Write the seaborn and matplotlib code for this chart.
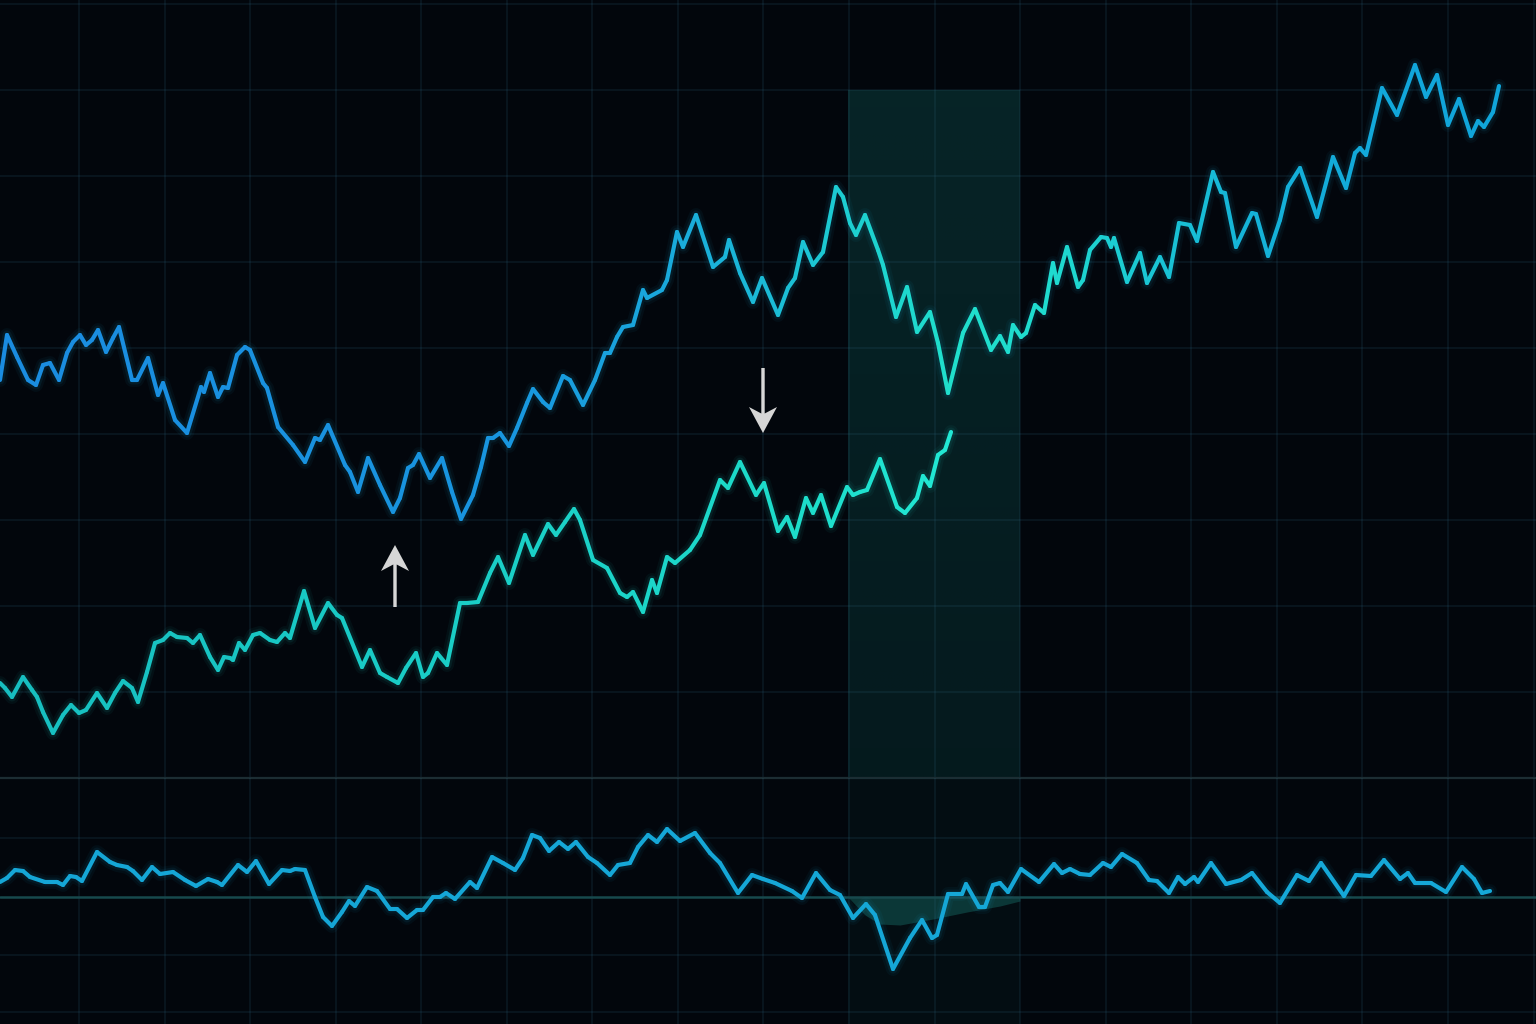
import numpy as np
import pandas as pd
import matplotlib
matplotlib.use("Agg")
import matplotlib.pyplot as plt
import seaborn as sns
from matplotlib.colors import LinearSegmentedColormap

# ---------------- data ----------------
# upper panel: primary series (blue -> teal -> blue)
blue_t = [0, 7, 17, 28, 36, 43, 50, 59, 67, 73, 80, 86, 92, 98, 106, 113, 119, 132, 137, 148,
          158, 163, 175, 187, 201, 204, 210, 218, 223, 228, 237, 245, 250, 263, 267, 278, 293, 305, 315, 320,
          328, 345, 350, 358, 368, 380, 393, 400, 408, 413, 419, 430, 442, 452, 461, 473, 481, 488, 493, 500,
          509, 517, 527, 533, 543, 550, 563, 570, 583, 595, 605, 610, 617, 623, 633, 643, 647, 662, 667, 677,
          683, 696, 713, 725, 729, 740, 753, 762, 778, 788, 795, 803, 813, 823, 836, 843, 850, 856, 865, 878,
          883, 896, 907, 917, 930, 938, 948, 963, 975, 991, 1000, 1008, 1013, 1021, 1026, 1035, 1044, 1053, 1057, 1067,
          1078, 1083, 1090, 1101, 1107, 1111, 1114, 1127, 1140, 1147, 1160, 1169, 1179, 1190, 1197, 1213, 1221, 1225, 1236, 1252,
          1256, 1268, 1280, 1288, 1300, 1317, 1333, 1346, 1355, 1360, 1366, 1382, 1397, 1415, 1426, 1437, 1448, 1459, 1471, 1478,
          1484, 1493, 1499]
blue_v = [398, 443, 421, 398, 393, 413, 415, 398, 425, 436, 443, 433, 438, 448, 426, 440, 451, 398, 398, 420,
          383, 395, 358, 345, 391, 386, 405, 381, 391, 390, 423, 431, 428, 395, 390, 351, 333, 316, 340, 338,
          353, 313, 306, 286, 320, 293, 266, 280, 310, 313, 324, 300, 320, 286, 259, 283, 311, 340, 340, 345,
          332, 350, 375, 389, 376, 370, 402, 398, 373, 398, 425, 425, 441, 451, 453, 488, 480, 488, 498, 546,
          531, 563, 511, 521, 538, 505, 476, 500, 463, 490, 500, 536, 513, 526, 591, 581, 555, 543, 563, 528,
          513, 461, 491, 446, 466, 435, 385, 445, 469, 428, 442, 426, 453, 441, 445, 473, 465, 515, 495, 531,
          491, 498, 528, 541, 540, 531, 540, 496, 525, 495, 521, 501, 555, 553, 537, 606, 586, 585, 531, 565,
          564, 522, 558, 591, 610, 561, 621, 590, 625, 630, 623, 690, 663, 713, 681, 703, 653, 679, 642, 657,
          651, 666, 692]

# upper panel: secondary series (teal)
teal_t = [0, 5, 12, 23, 32, 37, 43, 53, 63, 71, 79, 86, 97, 107, 115, 123, 132, 138, 147, 155,
          163, 170, 177, 187, 193, 200, 210, 218, 224, 230, 233, 239, 245, 253, 260, 270, 277, 285, 290, 304,
          315, 328, 337, 342, 362, 370, 380, 387, 398, 406, 416, 423, 428, 437, 447, 460, 467, 478, 490, 498,
          509, 525, 533, 548, 556, 565, 574, 580, 593, 607, 620, 627, 633, 643, 652, 657, 667, 675, 690, 700,
          720, 728, 740, 756, 764, 778, 787, 795, 806, 813, 821, 831, 847, 853, 860, 867, 880, 897, 905, 917,
          923, 930, 938, 945, 951]
teal_v = [95, 90, 81, 101, 88, 81, 66, 45, 63, 73, 65, 68, 85, 70, 85, 97, 90, 76, 106, 135,
          138, 145, 141, 140, 135, 143, 121, 108, 121, 120, 118, 135, 128, 143, 145, 138, 136, 145, 140, 187,
          150, 175, 163, 160, 111, 128, 105, 101, 95, 110, 125, 101, 105, 125, 113, 175, 175, 176, 205, 221,
          195, 243, 223, 254, 243, 256, 269, 258, 218, 210, 185, 181, 186, 166, 198, 185, 221, 215, 228, 243,
          298, 290, 316, 283, 295, 247, 261, 241, 280, 265, 283, 252, 291, 283, 286, 288, 319, 271, 265, 280,
          302, 292, 323, 328, 346]

# lower panel: oscillator around zero
osc_t = [0, 7, 15, 23, 30, 45, 57, 63, 70, 76, 82, 97, 110, 117, 127, 133, 142, 152, 160, 173,
         185, 196, 208, 217, 222, 238, 247, 256, 269, 282, 290, 295, 305, 315, 323, 332, 342, 349, 355, 367,
         377, 390, 397, 407, 417, 423, 433, 440, 446, 455, 470, 477, 492, 503, 515, 523, 532, 540, 549, 559,
         568, 576, 588, 597, 610, 618, 630, 638, 648, 657, 667, 680, 695, 710, 720, 738, 752, 763, 775, 792,
         802, 816, 830, 840, 853, 866, 875, 893, 910, 922, 932, 937, 948, 962, 966, 979, 985, 993, 1000, 1008,
         1021, 1039, 1054, 1062, 1070, 1080, 1090, 1103, 1111, 1122, 1137, 1149, 1157, 1169, 1178, 1185, 1194, 1198, 1211, 1226,
         1241, 1252, 1267, 1280, 1297, 1309, 1321, 1344, 1356, 1371, 1384, 1400, 1408, 1415, 1431, 1446, 1462, 1474, 1482, 1490]
osc_v = [15, 19, 27, 26, 20, 15, 15, 12, 21, 20, 16, 45, 35, 32, 30, 26, 17, 30, 23, 25,
         17, 11, 18, 15, 12, 32, 25, 36, 13, 27, 26, 28, 27, 0, -20, -29, -15, -4, -9, 10,
         6, -12, -12, -21, -13, -13, 0, 0, 4, -2, 15, 9, 40, 34, 27, 39, 62, 59, 46, 55,
         48, 55, 40, 34, 22, 32, 34, 50, 62, 55, 68, 56, 64, 44, 34, 4, 22, 18, 14, 6,
         -1, 24, 7, 2, -21, -7, -18, -72, -41, -23, -41, -38, 3, 3, 13, -10, -10, 12, 14, 5,
         28, 15, 33, 24, 28, 23, 22, 34, 30, 43, 34, 17, 16, 4, 20, 13, 20, 15, 34, 13,
         17, 24, 5, -6, 22, 16, 34, 1, 22, 21, 37, 18, 24, 14, 14, 5, 30, 18, 4, 6]

# shaded drawdown envelope in the lower panel
dd_t = [848, 865, 880, 900, 933, 967, 1000, 1020]
dd_v = [0, -18, -27, -28, -22, -15, -9, -4]

# highlighted window and annotation arrows
window = (848, 1020)
arrow_up = (395, 171, 233)     # t, from, to
arrow_down = (763, 410, 345)

# ---------------- style ----------------
BG = "#02060c"
sns.set_theme(style="dark")
plt.rcParams["font.family"] = ["DejaVu Sans"]

fig = plt.figure(figsize=(15.36, 10.24), dpi=100, facecolor=BG)
ax = fig.add_axes([0, 246 / 1024, 1, 778 / 1024])
axb = fig.add_axes([0, 0, 1, 246 / 1024])

xgrid = 79 + 85.56 * np.arange(-1, 18)
for a in (ax, axb):
    a.set_facecolor("none")
    for s in a.spines.values():
        s.set_visible(False)
    a.set_xticks(xgrid)
    a.tick_params(length=0, labelbottom=False, labelleft=False)
    a.grid(True, color="#2e6680", alpha=0.2, lw=1.1)
    a.set_axisbelow("line")

ax.set_yticks(np.arange(0, 780, 86))
axb.set_yticks([-115, -58, 59])


def gradient_line(axis, xs, vs, stops, lw, alpha=1.0, z=4):
    cmap = LinearSegmentedColormap.from_list("g", [(p / 1536, c) for p, c in stops])
    rows, pal = [], {}
    for i in range(len(xs) - 1):
        key = f"s{i:03d}"
        rows.append((xs[i], vs[i], key))
        rows.append((xs[i + 1], vs[i + 1], key))
        pal[key] = cmap((xs[i] + xs[i + 1]) / 2 / 1536)
    df = pd.DataFrame(rows, columns=["t", "v", "seg"])
    sns.lineplot(data=df, x="t", y="v", hue="seg", palette=pal, legend=False,
                 estimator=None, sort=False, lw=lw, alpha=alpha,
                 solid_capstyle="round", solid_joinstyle="round", ax=axis, zorder=z)


def glow(axis, xs, vs, color):
    for w, a in ((10, 0.05), (6.5, 0.08)):
        sns.lineplot(x=xs, y=vs, color=color, lw=w, alpha=a, estimator=None, sort=False,
                     solid_joinstyle="round", ax=axis, zorder=3)


blue_stops = [(0, "#1a8ce0"), (500, "#1895df"), (650, "#19a6dc"), (780, "#1bbdd6"),
              (860, "#1dd0d0"), (950, "#20dfcc"), (1060, "#1fdacf"), (1150, "#1ac6d4"),
              (1250, "#15b3d8"), (1400, "#11a6da"), (1536, "#10a4da")]
teal_stops = [(0, "#17bec0"), (300, "#18c8c4"), (600, "#1bd3c8"), (800, "#1ddcca"),
              (951, "#22e8d4"), (1536, "#22e8d4")]
osc_stops = [(0, "#15a6d6"), (1536, "#15a8d8")]

# highlighted window (upper panel, vertical gradient)
grad = np.zeros((100, 1, 4))
grad[..., 0], grad[..., 1], grad[..., 2] = 0.07, 0.42, 0.40
grad[:, 0, 3] = np.linspace(0.30, 0.20, 100)
ax.imshow(grad, extent=[window[0], window[1], 0, 688], aspect="auto", origin="upper",
          zorder=0.6, interpolation="bilinear")
axb.axvspan(window[0], window[1], color="#0e4444", alpha=0.12, lw=0, zorder=0.5)

# glow + lines
glow(ax, blue_t, blue_v, "#18b0dc")
glow(ax, teal_t, teal_v, "#1dd8cc")
gradient_line(ax, blue_t, blue_v, blue_stops, lw=3.0)
gradient_line(ax, teal_t, teal_v, teal_stops, lw=3.0)

# lower panel
axb.fill_between(dd_t, 0, dd_v, color="#115450", alpha=0.6, lw=0, zorder=1)
axb.axhline(0, color="#17494d", lw=1.8, zorder=1.8)
glow(axb, osc_t, osc_v, "#15a6d6")
gradient_line(axb, osc_t, osc_v, osc_stops, lw=3.0)

# separator between panels
ax.axhline(0, color="#1c2d33", lw=1.6, clip_on=False, zorder=1.8)

# annotation arrows
for t, y0, y1 in (arrow_up, arrow_down):
    ax.arrow(t, y0, 0, y1 - y0, width=3.4, head_width=28, head_length=26, overhang=0.25,
             length_includes_head=True, color="#d6d6d6", lw=0, zorder=6)

ax.set_xlim(0, 1536)
ax.set_ylim(0, 778)
axb.set_xlim(0, 1536)
axb.set_ylim(-127, 119)

fig.savefig("out.png", dpi=100, facecolor=BG)
